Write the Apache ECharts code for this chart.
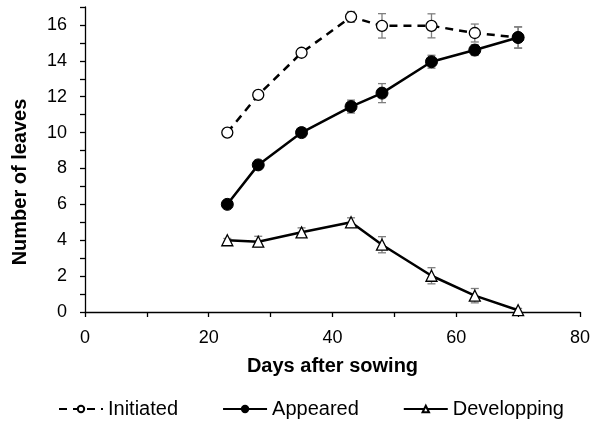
<!DOCTYPE html>
<html>
<head>
<meta charset="utf-8">
<script src="https://cdn.jsdelivr.net/npm/echarts@6/dist/echarts.min.js"></script>
<style>
  html, body { margin: 0; padding: 0; background: #fff; }
  #chart { width: 593px; height: 425px; }
</style>
</head>
<body>
<div id="chart"></div>
<script>
// days after sowing
const days = [23, 28, 35, 43, 48, 56, 63, 70];

// number of leaves (means)
const initiated = [10.0, 12.1, 14.45, 16.45, 15.95, 15.95, 15.55, 15.3];
const appeared = [6.0, 8.2, 10.0, 11.45, 12.2, 13.95, 14.6, 15.3];
const developping = [4.0, 3.92, 4.44, 5.0, 3.75, 2.02, 0.91, 0.1];

// error bars (+/-)
const initiatedErr = [0.1, 0.2, 0.2, 0.3, 0.68, 0.67, 0.5, 0.58];
const appearedErr = [0.1, 0.25, 0.25, 0.36, 0.53, 0.36, 0.3, 0.6];
const developpingErr = [0.1, 0.3, 0.25, 0.25, 0.45, 0.45, 0.4, 0.1];

const font = "Liberation Sans";

function pairs(vals) {
  return days.map((d, i) => [d, vals[i]]);
}

function errData(vals, errs) {
  return days.map((d, i) => [d, vals[i] - errs[i], vals[i] + errs[i]]);
}

function errSeries(name, vals, errs) {
  return {
    type: "custom",
    name: name + " err",
    z: 1,
    silent: true,
    data: errData(vals, errs),
    encode: { x: 0, y: [1, 2] },
    renderItem(params, api) {
      const lo = api.coord([api.value(0), api.value(1)]);
      const hi = api.coord([api.value(0), api.value(2)]);
      const w = 4;
      const style = { stroke: "#7f7f7f", lineWidth: 1.3 };
      return {
        type: "group",
        children: [
          { type: "line", shape: { x1: lo[0], y1: lo[1], x2: hi[0], y2: hi[1] }, style },
          { type: "line", shape: { x1: lo[0] - w, y1: lo[1], x2: lo[0] + w, y2: lo[1] }, style },
          { type: "line", shape: { x1: hi[0] - w, y1: hi[1], x2: hi[0] + w, y2: hi[1] }, style },
        ],
      };
    },
  };
}

const chart = echarts.init(document.getElementById("chart"));

chart.setOption({
  animation: false,
  textStyle: { fontFamily: font },
  grid: { left: 85, right: 12, top: 7, bottom: 113, containLabel: false },
  legend: {
    bottom: 1,
    left: 53,
    itemWidth: 44,
    itemHeight: 8,
    itemGap: 44,
    textStyle: { fontFamily: font, fontSize: 20, color: "#000" },
    data: ["Initiated", "Appeared", "Developping"],
  },
  xAxis: {
    type: "value",
    min: 0,
    max: 80,
    interval: 10,
    name: "Days after sowing",
    nameLocation: "middle",
    nameGap: 44,
    nameTextStyle: { fontFamily: font, fontSize: 20, fontWeight: "bold", color: "#000" },
    axisLine: { lineStyle: { color: "#000", width: 1.3 } },
    axisTick: { show: true, length: 5, lineStyle: { color: "#000", width: 1.3 } },
    axisLabel: {
      fontFamily: font,
      fontSize: 18,
      color: "#000",
      margin: 17,
      formatter: (v) => (v % 20 === 0 ? String(v) : ""),
    },
    splitLine: { show: false },
  },
  yAxis: {
    type: "value",
    min: 0,
    max: 17,
    interval: 1,
    name: "Number of leaves",
    nameLocation: "middle",
    nameGap: 55,
    nameTextStyle: {
      fontFamily: font,
      fontSize: 20,
      fontWeight: "bold",
      color: "#000",
      padding: [0, 45, 0, 0],
    },
    axisLine: { show: true, lineStyle: { color: "#000", width: 1.3 } },
    axisTick: { show: true, length: 5, lineStyle: { color: "#000", width: 1.3 } },
    axisLabel: {
      fontFamily: font,
      fontSize: 18,
      color: "#000",
      margin: 18,
      formatter: (v) => (v % 2 === 0 ? String(v) : ""),
    },
    splitLine: { show: false },
  },
  series: [
    errSeries("Initiated", initiated, initiatedErr),
    errSeries("Appeared", appeared, appearedErr),
    errSeries("Developping", developping, developpingErr),
    {
      name: "Initiated",
      type: "line",
      z: 3,
      data: pairs(initiated),
      symbol: "circle",
      symbolSize: 11,
      showAllSymbol: true,
      lineStyle: { color: "#000", width: 2.5, type: [8, 6] },
      itemStyle: { color: "#fff", borderColor: "#000", borderWidth: 1.3 },
    },
    {
      name: "Appeared",
      type: "line",
      z: 4,
      data: pairs(appeared),
      symbol: "circle",
      symbolSize: 12,
      lineStyle: { color: "#000", width: 2.5 },
      itemStyle: { color: "#000", borderColor: "#000", borderWidth: 1 },
    },
    {
      name: "Developping",
      type: "line",
      z: 3,
      data: pairs(developping),
      symbol: "triangle",
      symbolSize: 11,
      lineStyle: { color: "#000", width: 2.5 },
      itemStyle: { color: "#fff", borderColor: "#000", borderWidth: 1.3 },
    },
  ],
});
</script>
</body>
</html>
